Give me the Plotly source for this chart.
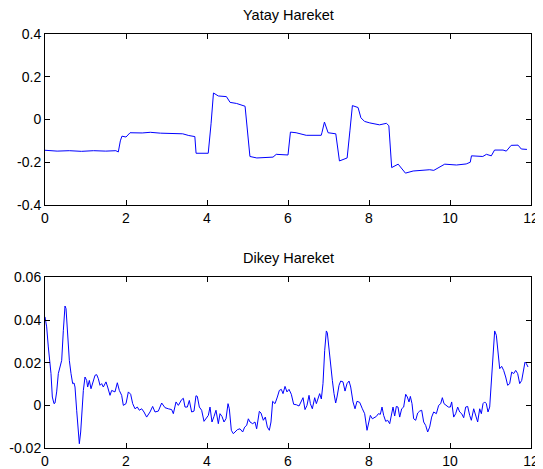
import plotly.graph_objects as go

# Yatay Hareket (top)
yatay_t = [0.00, 0.30, 0.60, 0.90, 1.20, 1.50, 1.75, 1.81, 1.86, 1.90, 2.00, 2.05, 2.10, 2.40, 2.60,
           2.85, 3.10, 3.40, 3.55, 3.70, 3.73, 4.03, 4.10, 4.16, 4.28, 4.48, 4.57, 4.73, 4.94, 5.06,
           5.23, 5.47, 5.63, 5.71, 5.88, 6.00, 6.06, 6.20, 6.45, 6.82, 6.84, 6.90, 6.99, 7.07, 7.18,
           7.27, 7.36, 7.46, 7.53, 7.59, 7.73, 7.80, 7.89, 8.02, 8.26, 8.43, 8.49, 8.56, 8.72, 8.80,
           8.90, 9.09, 9.50, 9.60, 9.87, 10.16, 10.40, 10.50, 10.53, 10.81, 10.90, 11.02, 11.10,
           11.31, 11.39, 11.51, 11.68, 11.76, 11.90]
yatay_v = [-0.144, -0.148, -0.146, -0.149, -0.146, -0.148, -0.146, -0.152, -0.100, -0.078, -0.082,
           -0.072, -0.062, -0.063, -0.060, -0.064, -0.066, -0.067, -0.075, -0.080, -0.158, -0.158,
           -0.020, 0.124, 0.110, 0.107, 0.080, 0.075, 0.062, -0.173, -0.180, -0.178, -0.176, -0.163,
           -0.166, -0.166, -0.059, -0.062, -0.074, -0.074, -0.060, -0.012, -0.062, -0.064, -0.067,
           -0.194, -0.186, -0.180, -0.050, 0.065, 0.056, 0.008, -0.009, -0.016, -0.025, -0.018,
           -0.029, -0.225, -0.209, -0.230, -0.251, -0.241, -0.235, -0.238, -0.209, -0.213, -0.208,
           -0.200, -0.170, -0.173, -0.163, -0.170, -0.143, -0.143, -0.148, -0.121, -0.120, -0.138,
           -0.140]

# Dikey Hareket (bottom)
dikey_t = [0.000, 0.041, 0.082, 0.123, 0.148, 0.181, 0.222, 0.247, 0.288, 0.329, 0.370, 0.412, 0.453,
           0.494, 0.519, 0.560, 0.601, 0.642, 0.683, 0.716, 0.741, 0.782, 0.823, 0.848, 0.881, 0.914,
           0.947, 0.988, 1.029, 1.053, 1.095, 1.136, 1.193, 1.235, 1.276, 1.317, 1.358, 1.399, 1.440,
           1.506, 1.547, 1.605, 1.646, 1.728, 1.786, 1.835, 1.893, 1.934, 2.000, 2.058, 2.115, 2.165,
           2.222, 2.280, 2.329, 2.387, 2.444, 2.510, 2.593, 2.658, 2.716, 2.798, 2.881, 2.963, 3.045,
           3.128, 3.169, 3.235, 3.292, 3.374, 3.416, 3.457, 3.514, 3.564, 3.621, 3.679, 3.728, 3.761,
           3.811, 3.868, 3.926, 3.975, 4.033, 4.074, 4.123, 4.173, 4.222, 4.280, 4.321, 4.370, 4.420,
           4.469, 4.519, 4.551, 4.601, 4.650, 4.691, 4.749, 4.815, 4.881, 4.930, 4.979, 5.021, 5.062,
           5.128, 5.185, 5.226, 5.292, 5.333, 5.391, 5.440, 5.490, 5.539, 5.580, 5.621, 5.679, 5.737,
           5.786, 5.835, 5.877, 5.926, 5.975, 6.025, 6.082, 6.140, 6.206, 6.272, 6.329, 6.371, 6.420,
           6.469, 6.519, 6.552, 6.601, 6.659, 6.700, 6.741, 6.782, 6.823, 6.864, 6.906, 6.947, 6.971,
           7.013, 7.054, 7.095, 7.136, 7.177, 7.210, 7.260, 7.301, 7.358, 7.408, 7.457, 7.507, 7.548,
           7.605, 7.655, 7.704, 7.770, 7.836, 7.893, 7.951, 8.000, 8.033, 8.083, 8.132, 8.181, 8.231,
           8.280, 8.321, 8.362, 8.412, 8.461, 8.511, 8.560, 8.593, 8.634, 8.675, 8.716, 8.758, 8.807,
           8.856, 8.906, 8.947, 8.988, 9.021, 9.062, 9.103, 9.153, 9.202, 9.251, 9.301, 9.350, 9.399,
           9.449, 9.498, 9.547, 9.597, 9.663, 9.720, 9.770, 9.811, 9.852, 9.910, 9.959, 10.008,
           10.041, 10.091, 10.140, 10.190, 10.239, 10.288, 10.338, 10.387, 10.436, 10.486, 10.527,
           10.585, 10.634, 10.683, 10.733, 10.774, 10.815, 10.856, 10.897, 10.938, 10.980, 11.021,
           11.062, 11.103, 11.144, 11.185, 11.227, 11.276, 11.325, 11.375, 11.424, 11.474, 11.523,
           11.572, 11.622, 11.671, 11.721, 11.770, 11.819, 11.852, 11.885, 11.926]
dikey_v = [0.0415, 0.0368, 0.0274, 0.0196, 0.0149, 0.0039, 0.0008, 0.0011, 0.0063, 0.0149, 0.0180,
           0.0211, 0.0352, 0.0466, 0.0454, 0.0321, 0.0211, 0.0149, 0.0102, 0.0105, 0.0086, -0.0023,
           -0.0133, -0.0180, -0.0125, -0.0023, 0.0070, 0.0133, 0.0117, 0.0086, 0.0117, 0.0078, 0.0117,
           0.0141, 0.0144, 0.0125, 0.0094, 0.0102, 0.0086, 0.0110, 0.0086, 0.0047, 0.0070, 0.0063,
           0.0106, 0.0070, 0.0047, 0.0000, 0.0008, 0.0063, 0.0052, 0.0008, -0.0016, -0.0008, -0.0023,
           -0.0016, -0.0031, -0.0055, -0.0031, -0.0005, -0.0031, -0.0027, 0.0011, -0.0011, -0.0016,
           -0.0020, -0.0039, 0.0016, 0.0000, 0.0027, 0.0033, -0.0008, -0.0008, 0.0023, -0.0031,
           -0.0027, 0.0045, 0.0042, -0.0008, -0.0023, -0.0075, -0.0063, -0.0047, -0.0008, -0.0078,
           -0.0052, -0.0023, -0.0086, -0.0039, -0.0052, -0.0078, -0.0063, 0.0008, -0.0016, -0.0117,
           -0.0133, -0.0125, -0.0114, -0.0110, -0.0125, -0.0102, -0.0094, -0.0063, -0.0078, -0.0086,
           -0.0078, -0.0110, -0.0028, -0.0036, -0.0070, -0.0055, -0.0102, -0.0117, -0.0078, 0.0019,
           0.0008, 0.0039, 0.0070, 0.0075, 0.0055, 0.0089, 0.0063, 0.0075, 0.0052, 0.0005, 0.0003,
           -0.0003, 0.0023, 0.0036, -0.0020, 0.0000, 0.0047, 0.0008, -0.0016, 0.0036, 0.0008, 0.0031,
           0.0055, 0.0030, 0.0102, 0.0258, 0.0349, 0.0340, 0.0258, 0.0172, 0.0117, 0.0055, 0.0011,
           0.0039, 0.0094, 0.0114, 0.0110, 0.0067, 0.0102, 0.0114, 0.0086, 0.0016, -0.0016, 0.0019,
           0.0014, -0.0016, -0.0039, -0.0117, -0.0078, -0.0047, -0.0063, -0.0058, -0.0052, -0.0039,
           -0.0042, -0.0008, -0.0047, -0.0075, -0.0070, -0.0086, -0.0039, -0.0008, -0.0050, -0.0005,
           -0.0008, -0.0055, -0.0016, -0.0008, 0.0052, 0.0039, 0.0016, 0.0042, 0.0008, -0.0063,
           -0.0070, -0.0036, -0.0027, -0.0023, -0.0078, -0.0094, -0.0125, -0.0102, -0.0055, -0.0031,
           -0.0039, 0.0000, 0.0008, 0.0036, 0.0008, 0.0000, -0.0008, -0.0008, 0.0016, -0.0055,
           -0.0039, -0.0008, -0.0031, -0.0039, -0.0058, -0.0008, -0.0005, -0.0047, -0.0070, -0.0016,
           -0.0042, -0.0078, -0.0016, -0.0039, 0.0008, 0.0016, 0.0008, -0.0031, -0.0008, 0.0117,
           0.0258, 0.0349, 0.0329, 0.0258, 0.0172, 0.0183, 0.0164, 0.0133, 0.0094, 0.0102, 0.0156,
           0.0149, 0.0164, 0.0149, 0.0102, 0.0117, 0.0180, 0.0203, 0.0196, 0.0180]

x_ticks = [0, 2, 4, 6, 8, 10, 12]
top_yticks = [-0.4, -0.2, 0, 0.2, 0.4]
top_ylabels = ["-0.4", "-0.2", "0", "0.2", "0.4"]
bot_yticks = [-0.02, 0, 0.02, 0.04, 0.06]
bot_ylabels = ["-0.02", "0", "0.02", "0.04", "0.06"]

FONT = "Liberation Sans, Arial, sans-serif"

fig = go.Figure()
fig.add_trace(go.Scatter(x=yatay_t, y=yatay_v, mode="lines",
                         line=dict(color="#0000ff", width=1), xaxis="x", yaxis="y"))
fig.add_trace(go.Scatter(x=dikey_t, y=dikey_v, mode="lines",
                         line=dict(color="#0000ff", width=1), xaxis="x2", yaxis="y2"))

axis_style = dict(showline=True, linecolor="black", linewidth=1, mirror="ticks",
                  ticks="inside", ticklen=5, tickcolor="black", showgrid=False,
                  zeroline=False, automargin=False,
                  tickfont=dict(family=FONT, size=14, color="black"))

# page body adds an 8px offset, so the figure is sized 8px smaller
fig.update_layout(
    width=535, height=461,
    paper_bgcolor="white", plot_bgcolor="white",
    margin=dict(l=37, r=12, t=26, b=21, autoexpand=False),
    showlegend=False,
    font=dict(family=FONT, size=14, color="black"),
    xaxis=dict(domain=[0, 1], anchor="y", range=[0, 12], tickvals=x_ticks,
               ticktext=[str(v) for v in x_ticks], **axis_style),
    yaxis=dict(domain=[0.587, 1], anchor="x", range=[-0.4, 0.4], tickvals=top_yticks,
               ticktext=top_ylabels, **axis_style),
    xaxis2=dict(domain=[0, 1], anchor="y2", range=[0, 12], tickvals=x_ticks,
                ticktext=[str(v) for v in x_ticks], **axis_style),
    yaxis2=dict(domain=[0, 0.412], anchor="x2", range=[-0.02, 0.06], tickvals=bot_yticks,
                ticktext=bot_ylabels, **axis_style),
    annotations=[
        dict(text="Yatay Hareket", x=0.5, y=1, xref="paper", yref="paper",
             xanchor="center", yanchor="bottom", yshift=9, showarrow=False,
             font=dict(family=FONT, size=14.5, color="black")),
        dict(text="Dikey Hareket", x=0.5, y=0.412, xref="paper", yref="paper",
             xanchor="center", yanchor="bottom", yshift=9, showarrow=False,
             font=dict(family=FONT, size=14.5, color="black")),
    ],
)

fig.write_html("out.html")
